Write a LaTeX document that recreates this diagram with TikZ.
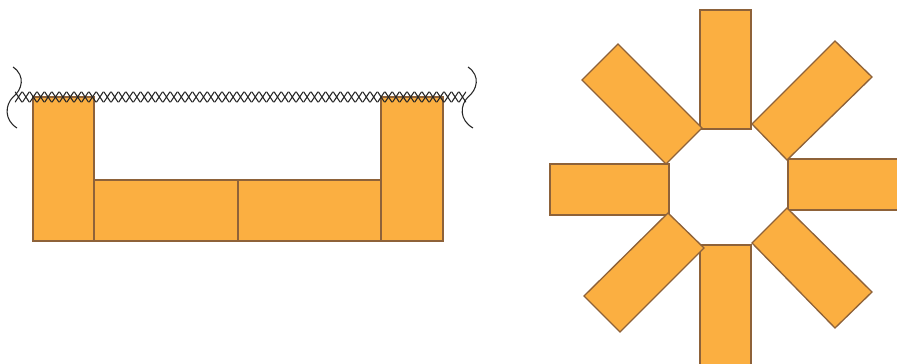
\documentclass[tikz,border=0pt]{standalone}
\definecolor{plank}{HTML}{FBAF41}
\definecolor{plankedge}{HTML}{8E6239}
\tikzset{
  board/.style={fill=plank,draw=plankedge,line width=1pt},
  seam/.style={black!85,line width=0.8pt},
}
\begin{document}
\begin{tikzpicture}[x=0.75pt,y=-0.75pt]
\useasboundingbox (0,0) rectangle (897,364);
\clip (0,0) rectangle (897,364);

% trough
\draw[board] (33,97) rectangle (94,241);
\draw[board] (94,180) rectangle (238,241);
\draw[board] (238,180) rectangle (381,241);
\draw[board] (381,97) rectangle (443,241);

% stitched edge
\foreach \i in {0,...,60}
  \draw[seam,line cap=round] ({18.5+7.4*\i-3.3},92) -- ({18.5+7.4*\i+3.3},102)
    ({18.5+7.4*\i-3.3},102) -- ({18.5+7.4*\i+3.3},92);

% break marks
\draw[seam] (13,67) .. controls (26,76) and (22,90) .. (13,97)
  .. controls (5,105) and (4,120) .. (17,128);
\draw[seam] (468,67) .. controls (481,76) and (477,90) .. (468,97)
  .. controls (460,105) and (459,120) .. (473,128);

% star
\draw[board] (700,10) rectangle (751,129);
\draw[board] (700,245) rectangle (751,370);
\draw[board] (550,164) rectangle (669,215);
\draw[board] (788,159) rectangle (905,210);
\draw[board] (666,164) -- (702,128) -- (618,44) -- (582,80) -- cycle;
\draw[board] (752,124) -- (787,160) -- (872,77) -- (835,41) -- cycle;
\draw[board] (787,208) -- (752,243) -- (835,328) -- (872,292) -- cycle;
\draw[board] (668,213) -- (704,248) -- (620,332) -- (584,296) -- cycle;
\end{tikzpicture}
\end{document}
